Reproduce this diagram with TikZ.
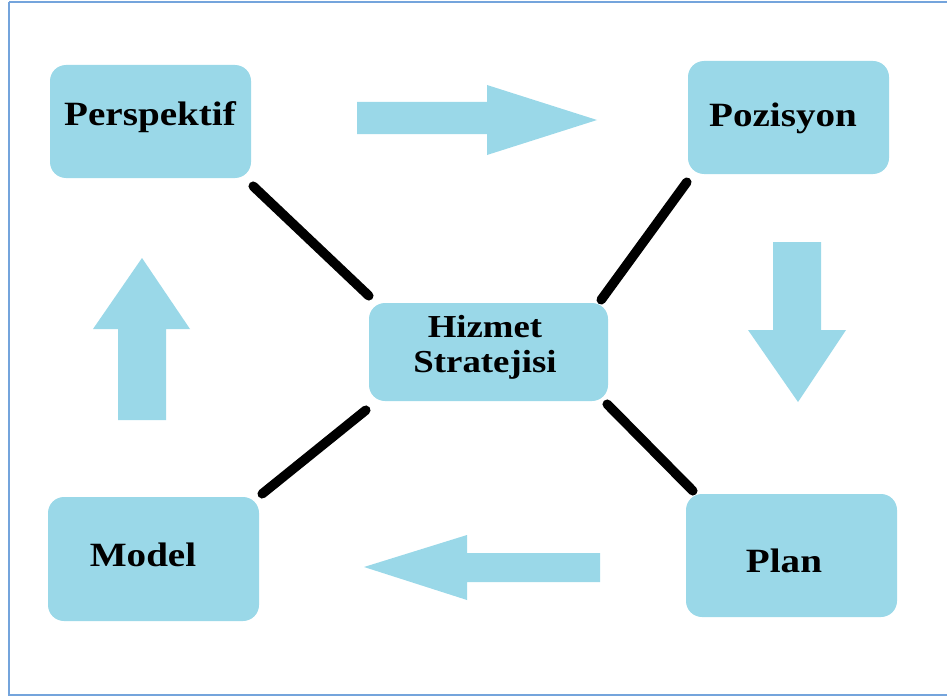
\documentclass[tikz,border=0pt]{standalone}
\usepackage{fontspec}
\newfontfamily\lblfont{Liberation Serif}[FakeStretch=1.15]
\usetikzlibrary{calc}
\definecolor{boxblue}{HTML}{9AD8E8}
\definecolor{framecol}{HTML}{74A4DC}
\begin{document}
\begin{tikzpicture}[x=1pt,y=-1pt,
  box/.style={fill=boxblue, draw=none, rounded corners=16pt, inner sep=0pt},
  lbl/.style={font=\lblfont\bfseries\fontsize{34}{36}\selectfont, text=black, inner sep=0pt, align=center},
  clbl/.style={font=\lblfont\bfseries\fontsize{32}{35}\selectfont, text=black, inner sep=0pt, align=center},
  link/.style={line width=9.5pt, line cap=round, draw=black},
  blockarrow/.style={fill=boxblue, draw=none}]
  % canvas and outer frame
  \useasboundingbox (0,0) rectangle (947,698);
  \draw[framecol, line width=2pt] (9,2) -- (960,2);
  \draw[framecol, line width=2pt] (9,2) -- (9,695) -- (960,695);

  % boxes
  \node[box, minimum width=201pt, minimum height=113pt] (persp) at (150.5,121.5) {};
  \node[box, minimum width=201pt, minimum height=113pt] (poz)   at (788.5,117.5) {};
  \node[box, minimum width=211pt, minimum height=124pt] (model) at (153.5,559) {};
  \node[box, minimum width=211pt, minimum height=123pt] (plan)  at (791.5,555.5) {};
  \node[box, minimum width=239pt, minimum height=98pt]  (hiz)   at (488.5,352) {};

  % labels
  \node[lbl]  (persp-t) at (150,117) {Perspektif};
  \node[lbl]  (poz-t)   at (783,118) {Pozisyon};
  \node[lbl]  (model-t) at (143,555) {Model};
  \node[lbl]  (plan-t)  at (784,561) {Plan};
  \node[clbl] (hiz-t)   at (485,347) {Hizmet\\Stratejisi};

  % links to the centre
  \draw[link] ($(persp.south east)+(2,8)$) -- ($(hiz.north west)+(0,-7)$);
  \draw[link] ($(poz.south west)+(-1,8)$) -- ($(hiz.north east)+(-7,-3)$);
  \draw[link] ($(model.north east)+(3,-3)$) -- ($(hiz.south west)+(-3,9)$);
  \draw[link] ($(plan.north west)+(7,-3)$) -- ($(hiz.south east)+(-1,3)$);

  % cycle arrows
  \fill[blockarrow] (357,102) -- (487,102) -- (487,85) -- (597,120)
    -- (487,155) -- (487,134) -- (357,134) -- cycle;
  \fill[blockarrow] (773,242) -- (821,242) -- (821,330) -- (846,330)
    -- (798,402) -- (748,330) -- (773,330) -- cycle;
  \fill[blockarrow] (600,553) -- (467,553) -- (467,535) -- (364,567)
    -- (467,600) -- (467,582) -- (600,582) -- cycle;
  \fill[blockarrow] (118,420) -- (118,329) -- (93,329) -- (142,258)
    -- (190,329) -- (166,329) -- (166,420) -- cycle;
\end{tikzpicture}
\end{document}
